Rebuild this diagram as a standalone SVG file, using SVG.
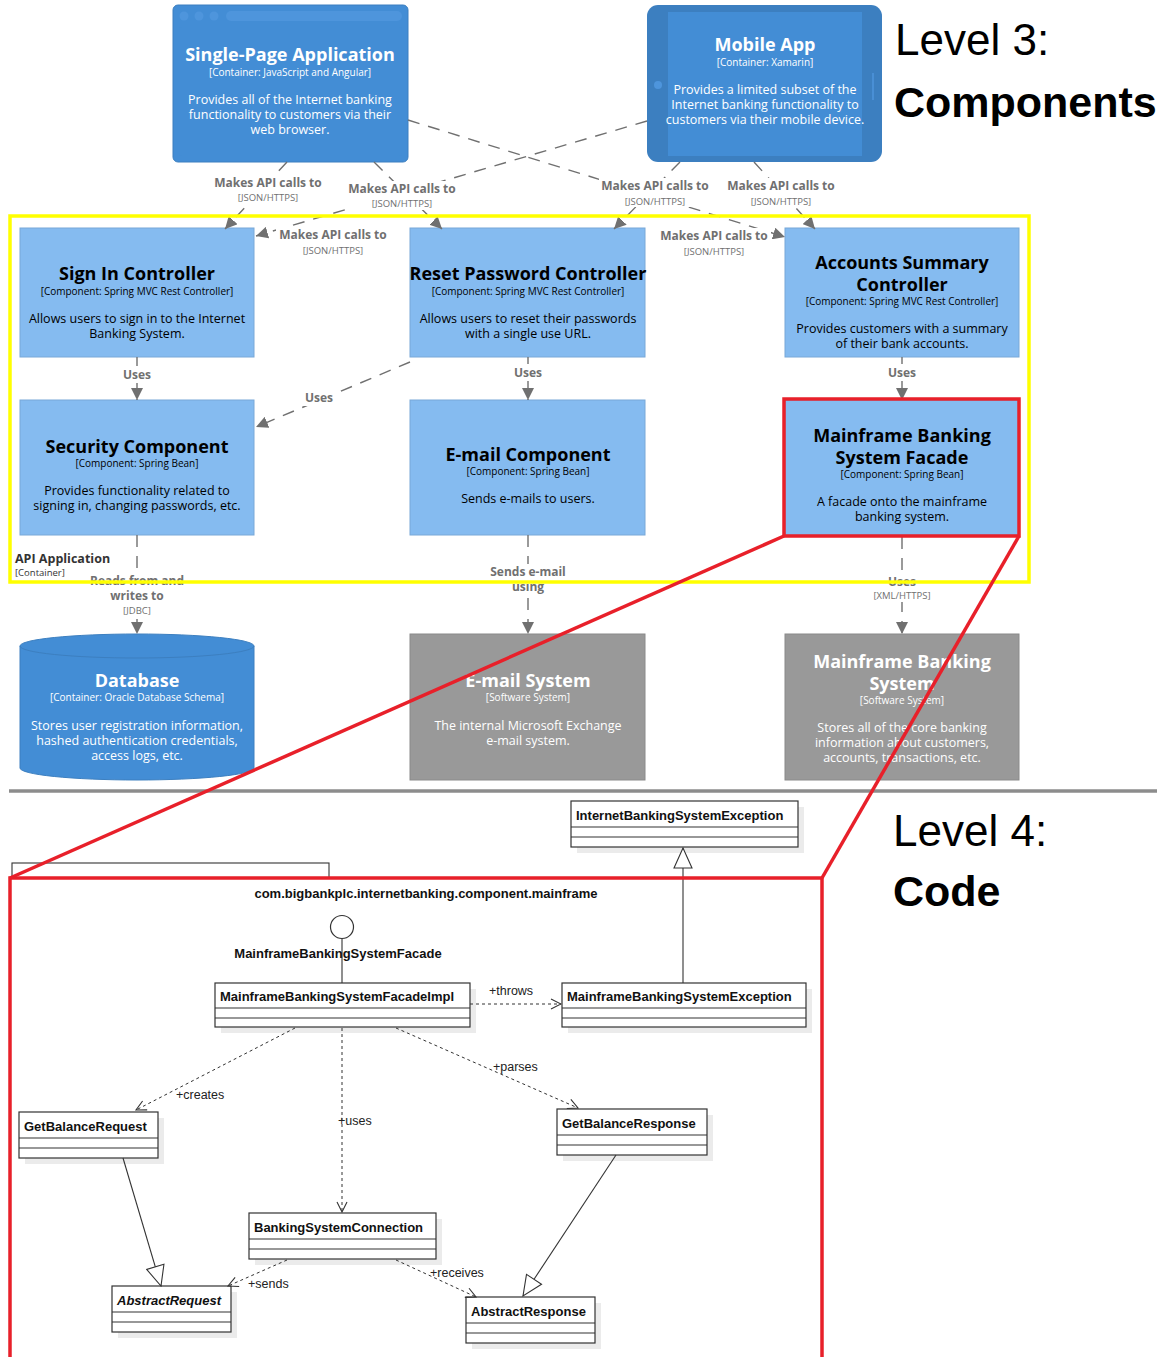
<svg xmlns="http://www.w3.org/2000/svg" width="1176" height="1357" viewBox="0 0 1176 1357">
  <defs>
    <style>
      .c4 { font-family: "Open Sans", "Liberation Sans", sans-serif; text-anchor: middle; }
      .ttl { font-weight: bold; font-size: 18px; }
      .sub { font-size: 10px; }
      .dsc { font-size: 12.5px; }
      .w { fill: #ffffff; }
      .k { fill: #000000; }
      .cont { fill: #438DD5; stroke: #3C7FC0; }
      .comp { fill: #85BBF0; stroke: #78A8D8; stroke-width: 1; }
      .ext { fill: #999999; stroke: #8A8A8A; stroke-width: 1; }
      .conn { fill: none; stroke: #707070; stroke-width: 1.4; stroke-dasharray: 12 9; }
      .lbl { font-family: "Open Sans", "Liberation Sans", sans-serif; font-weight: bold; font-size: 12px; fill: #707070; text-anchor: middle; }
      .tech { font-family: "Open Sans", "Liberation Sans", sans-serif; font-size: 9.5px; fill: #707070; text-anchor: middle; }
      .bg { fill: #ffffff; }
      .cls { fill: #ffffff; stroke: #333333; stroke-width: 1.2; }
      .shd { fill: #ebebeb; }
      .sep { stroke: #333333; stroke-width: 1.2; }
      .uml { font-family: "Liberation Sans", Arial, sans-serif; font-size: 13px; font-weight: bold; fill: #111111; }
      .rel { font-family: "Liberation Sans", Arial, sans-serif; font-size: 12.5px; fill: #222222; }
      .dep { fill: none; stroke: #333333; stroke-width: 1; stroke-dasharray: 3 3; }
      .gen { fill: none; stroke: #333333; stroke-width: 1.1; }
      .red { fill: none; stroke: #E8202A; stroke-width: 3.5; }
      .head { font-family: "Liberation Sans", Arial, sans-serif; fill: #000000; }
    </style>
    <marker id="arr" markerUnits="userSpaceOnUse" markerWidth="12" markerHeight="12" viewBox="0 0 12 12" refX="12" refY="6" orient="auto">
      <path d="M0,0 L12,6 L0,12 z" fill="#707070"/>
    </marker>
    <marker id="open" markerUnits="userSpaceOnUse" markerWidth="12" markerHeight="12" viewBox="0 0 12 12" refX="11" refY="6" orient="auto">
      <path d="M1,1 L11,6 L1,11" fill="none" stroke="#333333" stroke-width="1.1"/>
    </marker>
    <marker id="tri" markerUnits="userSpaceOnUse" markerWidth="22" markerHeight="20" viewBox="0 0 22 20" refX="21" refY="10" orient="auto">
      <path d="M1,1 L21,10 L1,19 z" fill="#ffffff" stroke="#333333" stroke-width="1.1"/>
    </marker>
  </defs>

  <rect width="1176" height="1357" fill="#ffffff"/>

  <!-- Level 3: containers and components -->
  <g id="spa" class="c4">
    <rect class="cont" x="173" y="5" width="235" height="157" rx="5"/>
    <circle cx="184" cy="16" r="4.5" fill="#4E95DC"/>
    <circle cx="199" cy="16" r="4.5" fill="#4E95DC"/>
    <circle cx="214" cy="16" r="4.5" fill="#4E95DC"/>
    <rect x="226" y="11" width="176" height="10" rx="5" fill="#4E95DC"/>
    <rect x="179" y="27" width="223" height="129" rx="3" fill="#438DD5"/>
    <text class="ttl w" x="290" y="61">Single-Page Application</text>
    <text class="sub w" x="290" y="76">[Container: JavaScript and Angular]</text>
    <text class="dsc w" x="290" y="104">Provides all of the Internet banking</text>
    <text class="dsc w" x="290" y="119">functionality to customers via their</text>
    <text class="dsc w" x="290" y="134">web browser.</text>
  </g>

  <g id="mobile-app" class="c4">
    <rect x="647" y="5" width="235" height="157" rx="11" fill="#3C7FC0"/>
    <rect x="668" y="12" width="194" height="144" fill="#438DD5"/>
    <circle cx="658" cy="85" r="4" fill="#4E95DC"/>
    <line x1="873" y1="73" x2="873" y2="100" stroke="#4E95DC" stroke-width="1.5"/>
    <text class="ttl w" x="765" y="51">Mobile App</text>
    <text class="sub w" x="765" y="66">[Container: Xamarin]</text>
    <text class="dsc w" x="765" y="94">Provides a limited subset of the</text>
    <text class="dsc w" x="765" y="109">Internet banking functionality to</text>
    <text class="dsc w" x="765" y="124">customers via their mobile device.</text>
  </g>

  <g id="sign-in-controller" class="c4">
    <rect class="comp" x="20" y="228" width="234" height="129"/>
    <text class="ttl k" x="137" y="280">Sign In Controller</text>
    <text class="sub k" x="137" y="295">[Component: Spring MVC Rest Controller]</text>
    <text class="dsc k" x="137" y="323">Allows users to sign in to the Internet</text>
    <text class="dsc k" x="137" y="338">Banking System.</text>
  </g>

  <g id="reset-password-controller" class="c4">
    <rect class="comp" x="410" y="228" width="235" height="129"/>
    <text class="ttl k" x="528" y="280">Reset Password Controller</text>
    <text class="sub k" x="528" y="295">[Component: Spring MVC Rest Controller]</text>
    <text class="dsc k" x="528" y="323">Allows users to reset their passwords</text>
    <text class="dsc k" x="528" y="338">with a single use URL.</text>
  </g>

  <g id="accounts-summary-controller" class="c4">
    <rect class="comp" x="785" y="228" width="234" height="129"/>
    <text class="ttl k" x="902" y="269">Accounts Summary</text>
    <text class="ttl k" x="902" y="291">Controller</text>
    <text class="sub k" x="902" y="305">[Component: Spring MVC Rest Controller]</text>
    <text class="dsc k" x="902" y="333">Provides customers with a summary</text>
    <text class="dsc k" x="902" y="348">of their bank accounts.</text>
  </g>

  <g id="security-component" class="c4">
    <rect class="comp" x="20" y="400" width="234" height="135"/>
    <text class="ttl k" x="137" y="453">Security Component</text>
    <text class="sub k" x="137" y="467">[Component: Spring Bean]</text>
    <text class="dsc k" x="137" y="495">Provides functionality related to</text>
    <text class="dsc k" x="137" y="510">signing in, changing passwords, etc.</text>
  </g>

  <g id="email-component" class="c4">
    <rect class="comp" x="410" y="400" width="235" height="135"/>
    <text class="ttl k" x="528" y="461">E-mail Component</text>
    <text class="sub k" x="528" y="475">[Component: Spring Bean]</text>
    <text class="dsc k" x="528" y="503">Sends e-mails to users.</text>
  </g>

  <g id="mainframe-facade" class="c4">
    <rect class="comp" x="785" y="400" width="234" height="135"/>
    <text class="ttl k" x="902" y="442">Mainframe Banking</text>
    <text class="ttl k" x="902" y="464">System Facade</text>
    <text class="sub k" x="902" y="478">[Component: Spring Bean]</text>
    <text class="dsc k" x="902" y="506">A facade onto the mainframe</text>
    <text class="dsc k" x="902" y="521">banking system.</text>
  </g>

  <g id="database" class="c4">
    <path class="cont" d="M20,646 A117,12 0 0 1 254,646 V768 A117,12 0 0 1 20,768 Z"/>
    <path d="M20,646 A117,12 0 0 0 254,646" fill="none" stroke="#3C7FC0" stroke-width="1"/>
    <text class="ttl w" x="137" y="687">Database</text>
    <text class="sub w" x="137" y="701">[Container: Oracle Database Schema]</text>
    <text class="dsc w" x="137" y="730">Stores user registration information,</text>
    <text class="dsc w" x="137" y="745">hashed authentication credentials,</text>
    <text class="dsc w" x="137" y="760">access logs, etc.</text>
  </g>

  <g id="email-system" class="c4">
    <rect class="ext" x="410" y="634" width="235" height="146"/>
    <text class="ttl w" x="528" y="687">E-mail System</text>
    <text class="sub w" x="528" y="701">[Software System]</text>
    <text class="dsc w" x="528" y="730">The internal Microsoft Exchange</text>
    <text class="dsc w" x="528" y="745">e-mail system.</text>
  </g>

  <g id="mainframe-system" class="c4">
    <rect class="ext" x="785" y="634" width="234" height="146"/>
    <text class="ttl w" x="902" y="668">Mainframe Banking</text>
    <text class="ttl w" x="902" y="690">System</text>
    <text class="sub w" x="902" y="704">[Software System]</text>
    <text class="dsc w" x="902" y="732">Stores all of the core banking</text>
    <text class="dsc w" x="902" y="747">information about customers,</text>
    <text class="dsc w" x="902" y="762">accounts, transactions, etc.</text>
  </g>

  <!-- Level 3 relationships -->
  <g id="c4-connectors">
    <path class="conn" d="M287,162 L225,229" marker-end="url(#arr)"/>
    <path class="conn" d="M374,162 L442,229" marker-end="url(#arr)"/>
    <path class="conn" d="M680,162 L614,229" marker-end="url(#arr)"/>
    <path class="conn" d="M754,162 L815,229" marker-end="url(#arr)"/>
    <path class="conn" d="M408,120 L785,237" marker-end="url(#arr)"/>
    <path class="conn" d="M647,121 L256,236" marker-end="url(#arr)"/>
    <path class="conn" d="M137,357 V400" marker-end="url(#arr)"/>
    <path class="conn" d="M410,362 L256,427" marker-end="url(#arr)"/>
    <path class="conn" d="M528,357 V400" marker-end="url(#arr)"/>
    <path class="conn" d="M902,357 V400" marker-end="url(#arr)"/>
    <path class="conn" d="M137,535 V634" marker-end="url(#arr)"/>
    <path class="conn" d="M528,535 V634" marker-end="url(#arr)"/>
    <path class="conn" d="M902,537 V634" marker-end="url(#arr)"/>

    <rect class="bg" x="211" y="175" width="114" height="29"/>
    <text class="lbl" x="268" y="187">Makes API calls to</text>
    <text class="tech" x="268" y="201">[JSON/HTTPS]</text>

    <rect class="bg" x="346" y="181" width="114" height="29"/>
    <text class="lbl" x="402" y="193">Makes API calls to</text>
    <text class="tech" x="402" y="207">[JSON/HTTPS]</text>

    <rect class="bg" x="599" y="178" width="114" height="29"/>
    <text class="lbl" x="655" y="190">Makes API calls to</text>
    <text class="tech" x="655" y="205">[JSON/HTTPS]</text>

    <rect class="bg" x="724" y="178" width="114" height="29"/>
    <text class="lbl" x="781" y="190">Makes API calls to</text>
    <text class="tech" x="781" y="205">[JSON/HTTPS]</text>

    <rect class="bg" x="276" y="227" width="114" height="30"/>
    <text class="lbl" x="333" y="239">Makes API calls to</text>
    <text class="tech" x="333" y="254">[JSON/HTTPS]</text>

    <rect class="bg" x="657" y="228" width="114" height="30"/>
    <text class="lbl" x="714" y="240">Makes API calls to</text>
    <text class="tech" x="714" y="255">[JSON/HTTPS]</text>

    <rect class="bg" x="120" y="366" width="34" height="17"/>
    <text class="lbl" x="137" y="379">Uses</text>
    <rect class="bg" x="511" y="364" width="34" height="17"/>
    <text class="lbl" x="528" y="377">Uses</text>
    <rect class="bg" x="885" y="364" width="34" height="17"/>
    <text class="lbl" x="902" y="377">Uses</text>
    <rect class="bg" x="302" y="389" width="34" height="17"/>
    <text class="lbl" x="319" y="402">Uses</text>

    <rect class="bg" x="86" y="572" width="102" height="45"/>
    <text class="lbl" x="137" y="585">Reads from and</text>
    <text class="lbl" x="137" y="600">writes to</text>
    <text class="tech" x="137" y="614">[JDBC]</text>

    <rect class="bg" x="486" y="564" width="84" height="31"/>
    <text class="lbl" x="528" y="576">Sends e-mail</text>
    <text class="lbl" x="528" y="591">using</text>

    <rect class="bg" x="870" y="573" width="64" height="29"/>
    <text class="lbl" x="902" y="586">Uses</text>
    <text class="tech" x="902" y="599">[XML/HTTPS]</text>
  </g>

  <!-- API Application container boundary -->
  <g id="api-application">
    <rect x="10" y="216" width="1019" height="366" fill="none" stroke="#FFFF00" stroke-width="3.5"/>
    <text x="15" y="563" font-family="'Open Sans', 'Liberation Sans', sans-serif" font-size="12.5" font-weight="bold" fill="#333333">API Application</text>
    <text x="15" y="576" font-family="'Open Sans', 'Liberation Sans', sans-serif" font-size="9.5" fill="#333333">[Container]</text>
  </g>

  <!-- divider between the two levels -->
  <line x1="9" y1="791" x2="1157" y2="791" stroke="#8C8C8C" stroke-width="3.5"/>

  <!-- Level 4: code (UML classes) -->
  <g id="package">
    <rect x="15" y="866" width="314" height="12" class="shd"/>
    <rect x="12" y="863" width="317" height="15" fill="#ffffff" stroke="#333333" stroke-width="1.1"/>
    <rect x="10" y="878" width="812" height="500" fill="#ffffff" stroke="#333333" stroke-width="1.1"/>
    <text class="uml" x="426" y="898" text-anchor="middle">com.bigbankplc.internetbanking.component.mainframe</text>
  </g>

  <g id="facade-interface">
    <circle cx="342" cy="927" r="11.5" fill="#ffffff" stroke="#333333" stroke-width="1.2"/>
    <line x1="342" y1="939" x2="342" y2="983" stroke="#333333" stroke-width="1.1"/>
    <text class="uml" x="338" y="958" text-anchor="middle">MainframeBankingSystemFacade</text>
  </g>

  <g id="internet-banking-system-exception">
    <rect class="shd" x="577" y="807" width="227" height="46"/>
    <rect class="cls" x="571" y="801" width="227" height="46"/>
    <line class="sep" x1="571" y1="827" x2="798" y2="827"/>
    <line class="sep" x1="571" y1="837" x2="798" y2="837"/>
    <text class="uml" x="576" y="820">InternetBankingSystemException</text>
  </g>

  <g id="facade-impl">
    <rect class="shd" x="221" y="989" width="255" height="44"/>
    <rect class="cls" x="215" y="983" width="255" height="44"/>
    <line class="sep" x1="215" y1="1008" x2="470" y2="1008"/>
    <line class="sep" x1="215" y1="1018" x2="470" y2="1018"/>
    <text class="uml" x="220" y="1001">MainframeBankingSystemFacadeImpl</text>
  </g>

  <g id="mainframe-exception">
    <rect class="shd" x="568" y="989" width="244" height="44"/>
    <rect class="cls" x="562" y="983" width="244" height="44"/>
    <line class="sep" x1="562" y1="1008" x2="806" y2="1008"/>
    <line class="sep" x1="562" y1="1018" x2="806" y2="1018"/>
    <text class="uml" x="567" y="1001">MainframeBankingSystemException</text>
  </g>

  <g id="get-balance-request">
    <rect class="shd" x="25" y="1118" width="139" height="46"/>
    <rect class="cls" x="19" y="1112" width="139" height="46"/>
    <line class="sep" x1="19" y1="1138" x2="158" y2="1138"/>
    <line class="sep" x1="19" y1="1148" x2="158" y2="1148"/>
    <text class="uml" x="24" y="1131">GetBalanceRequest</text>
  </g>

  <g id="get-balance-response">
    <rect class="shd" x="563" y="1115" width="150" height="46"/>
    <rect class="cls" x="557" y="1109" width="150" height="46"/>
    <line class="sep" x1="557" y1="1135" x2="707" y2="1135"/>
    <line class="sep" x1="557" y1="1145" x2="707" y2="1145"/>
    <text class="uml" x="562" y="1128">GetBalanceResponse</text>
  </g>

  <g id="banking-system-connection">
    <rect class="shd" x="255" y="1219" width="187" height="46"/>
    <rect class="cls" x="249" y="1213" width="187" height="46"/>
    <line class="sep" x1="249" y1="1239" x2="436" y2="1239"/>
    <line class="sep" x1="249" y1="1249" x2="436" y2="1249"/>
    <text class="uml" x="254" y="1232">BankingSystemConnection</text>
  </g>

  <g id="abstract-request">
    <rect class="shd" x="118" y="1292" width="119" height="46"/>
    <rect class="cls" x="112" y="1286" width="119" height="46"/>
    <line class="sep" x1="112" y1="1312" x2="231" y2="1312"/>
    <line class="sep" x1="112" y1="1322" x2="231" y2="1322"/>
    <text class="uml" x="117" y="1305" font-style="italic">AbstractRequest</text>
  </g>

  <g id="abstract-response">
    <rect class="shd" x="472" y="1303" width="129" height="46"/>
    <rect class="cls" x="466" y="1297" width="129" height="46"/>
    <line class="sep" x1="466" y1="1323" x2="595" y2="1323"/>
    <line class="sep" x1="466" y1="1333" x2="595" y2="1333"/>
    <text class="uml" x="471" y="1316">AbstractResponse</text>
  </g>

  <!-- UML relationships -->
  <g id="uml-connectors">
    <path class="gen" d="M683,983 V848" marker-end="url(#tri)"/>
    <path class="gen" d="M123,1158 L161,1286" marker-end="url(#tri)"/>
    <path class="gen" d="M616,1155 L523,1296" marker-end="url(#tri)"/>
    <path class="dep" d="M470,1004 H561" marker-end="url(#open)"/>
    <path class="dep" d="M295,1028 L136,1110" marker-end="url(#open)"/>
    <path class="dep" d="M342,1028 V1212" marker-end="url(#open)"/>
    <path class="dep" d="M396,1028 L578,1108" marker-end="url(#open)"/>
    <path class="dep" d="M287,1260 L228,1286" marker-end="url(#open)"/>
    <path class="dep" d="M396,1260 L476,1297" marker-end="url(#open)"/>
    <text class="rel" x="489" y="995">+throws</text>
    <text class="rel" x="176" y="1099">+creates</text>
    <text class="rel" x="338" y="1125">+uses</text>
    <text class="rel" x="493" y="1071">+parses</text>
    <text class="rel" x="248" y="1288">+sends</text>
    <text class="rel" x="430" y="1277">+receives</text>
  </g>

  <!-- zoom-in highlight from the facade component to its code -->
  <g id="zoom-highlight">
    <rect class="red" x="784" y="399" width="235" height="137"/>
    <line class="red" x1="784" y1="536" x2="10" y2="878"/>
    <line class="red" x1="1019" y1="536" x2="822" y2="878"/>
    <path class="red" d="M10,1360 V878 H822 V1360"/>
  </g>

  <!-- level headings -->
  <g id="headings">
    <text class="head" x="895" y="55" font-size="44">Level 3:</text>
    <text class="head" x="894" y="117" font-size="43" font-weight="bold">Components</text>
    <text class="head" x="893" y="846" font-size="44">Level 4:</text>
    <text class="head" x="893" y="906" font-size="43" font-weight="bold">Code</text>
  </g>
</svg>
